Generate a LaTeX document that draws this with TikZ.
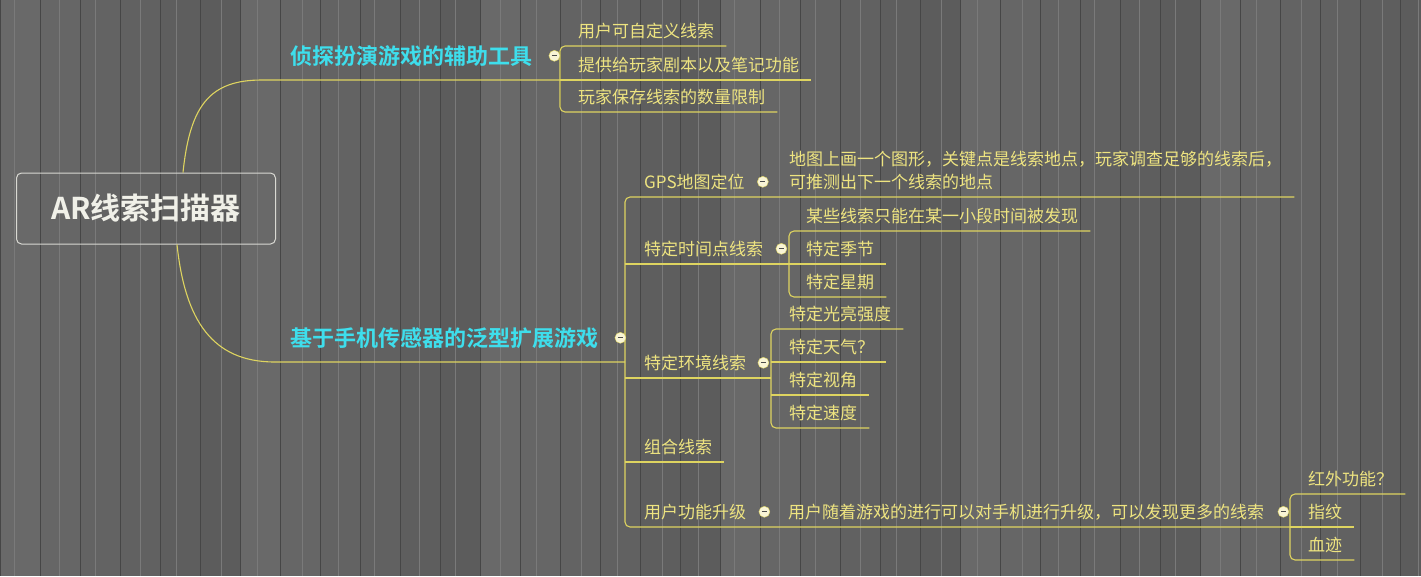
\documentclass[tikz,border=0pt]{standalone}
\usepackage{fontspec}
\setmainfont{Noto Sans CJK SC}[BoldFont={Noto Sans CJK SC Bold}]
\usetikzlibrary{calc}
\definecolor{linkyellow}{RGB}{222,212,96}
\definecolor{leafyellow}{RGB}{238,228,128}
\definecolor{branchcyan}{RGB}{62,222,236}
\definecolor{rootwhite}{RGB}{240,240,232}
\definecolor{seam}{RGB}{70,70,70}
\definecolor{foldfill}{RGB}{248,244,214}

\begin{document}
\begin{tikzpicture}[
  x=1pt, y=-1pt,
  link/.style={draw=linkyellow, line width=1.1pt},
  leaf/.style={anchor=south west, inner sep=0pt, text depth=8pt, text=leafyellow,
    font=\fontsize{17}{23}\selectfont, align=left},
  branch/.style={anchor=south west, inner sep=0pt, text depth=15pt, text=branchcyan,
    font=\fontsize{22}{26}\selectfont\bfseries},
  rootbox/.style={draw=rootwhite!80!gray, line width=1pt, rounded corners=5pt,
    minimum width=259pt, minimum height=71pt, text=rootwhite,
    font=\fontsize{30}{34}\selectfont\bfseries},
  fold/.style={circle, draw=linkyellow, fill=foldfill, minimum size=11pt, inner sep=0pt,
    path picture={\draw[gray!60!black, line width=1.1pt]
      ([xshift=-2.5pt]path picture bounding box.center) --
      ([xshift=2.5pt]path picture bounding box.center);}}
]
\useasboundingbox (0,0) rectangle (1421,576);

% wooden planks
\foreach \i in {0,...,35} {
  \pgfmathtruncatemacro\p{59+mod(\i*7,6)}
  \pgfmathtruncatemacro\q{\i*40+14+mod(\i*5,9)}
  \fill[black!\p] (\i*40,0) rectangle (\i*40+40,576);
  \draw[seam, line width=0.9pt] (\i*40,0) -- (\i*40,576);
  \draw[black!52, line width=0.6pt] (\q,0) -- (\q,576);
}

% root
\node[rootbox] (root) at (146,208.5) {AR线索扫描器};

% main branches
\node[branch] (b1) at (290,80) {侦探扮演游戏的辅助工具};
\node[branch] (b2) at (290,362) {基于手机传感器的泛型扩展游戏};

% leaves of branch 1
\node[leaf] (c11) at (578,46) {用户可自定义线索};
\node[leaf] (c12) at (578,80) {提供给玩家剧本以及笔记功能};
\node[leaf] (c13) at (578,112) {玩家保存线索的数量限制};

% topics of branch 2
\node[leaf] (g1) at (644,197) {GPS地图定位};
\node[leaf] (d1) at (789,197) {地图上画一个图形，关键点是线索地点，玩家调查足够的线索后，\\可推测出下一个线索的地点};
\node[leaf] (t1) at (644,264) {特定时间点线索};
\node[leaf] (t11) at (806,231) {某些线索只能在某一小段时间被发现};
\node[leaf] (t12) at (806,264) {特定季节};
\node[leaf] (t13) at (806,297) {特定星期};
\node[leaf] (e1) at (644,378) {特定环境线索};
\node[leaf] (e11) at (789,329) {特定光亮强度};
\node[leaf] (e12) at (789,362) {特定天气？};
\node[leaf] (e13) at (789,395) {特定视角};
\node[leaf] (e14) at (789,428) {特定速度};
\node[leaf] (k1) at (644,462) {组合线索};
\node[leaf] (u1) at (644,527) {用户功能升级};
\node[leaf] (u11) at (788,527) {用户随着游戏的进行可以对手机进行升级，可以发现更多的线索};
\node[leaf] (u111) at (1308,494) {红外功能？};
\node[leaf] (u112) at (1308,527) {指纹};
\node[leaf] (u113) at (1308,560) {血迹};

% joints
\coordinate (b1j) at (560,80);
\coordinate (b2j) at (625,362);
\coordinate (t1j) at (789,264);
\coordinate (e1j) at (771,378);
\coordinate (u1j) at (1290,527);

% curves from the root
\draw[link] ([xshift=37pt]root.north) .. controls (190,105) and (210,80) .. (262,80) -- (b1j);
\draw[link] ([xshift=31pt]root.south) .. controls (185,320) and (212,362) .. (275,362) -- (b2j);

% branch 1
\draw[link, rounded corners=5pt] ([xshift=12pt]c11.south east) -- (b1j |- c11.south)
  -- (b1j |- c13.south) -- ([xshift=12pt]c13.south east);
\draw[link] (b1j |- c12.south) -- ([xshift=12pt]c12.south east);

% branch 2
\draw[link, rounded corners=5pt] ([xshift=12pt]d1.south east) -- (b2j |- g1.south)
  -- (b2j |- u1.south) -- (u1j);
\draw[link] (b2j |- t1.south) -- (t1j);
\draw[link] (b2j |- e1.south) -- (e1j);
\draw[link] (b2j |- k1.south) -- ([xshift=12pt]k1.south east);

\draw[link, rounded corners=5pt] ([xshift=12pt]t11.south east) -- (t1j |- t11.south)
  -- (t1j |- t13.south) -- ([xshift=12pt]t13.south east);
\draw[link] (t1j) -- ([xshift=12pt]t12.south east);

\draw[link, rounded corners=5pt] ([xshift=12pt]e11.south east) -- (e1j |- e11.south)
  -- (e1j |- e14.south) -- ([xshift=12pt]e14.south east);
\draw[link] (e1j |- e12.south) -- ([xshift=12pt]e12.south east);
\draw[link] (e1j |- e13.south) -- ([xshift=12pt]e13.south east);

\draw[link, rounded corners=5pt] ([xshift=12pt]u111.south east) -- (u1j |- u111.south)
  -- (u1j |- u113.south) -- ([xshift=12pt]u113.south east);
\draw[link] (u1j) -- ([xshift=12pt]u112.south east);

% fold markers
\node[fold] (b1f) at ([shift={(22pt,9pt)}]b1.base east) {};
\node[fold] (b2f) at ([shift={(22pt,9pt)}]b2.base east) {};
\node[fold] (g1f) at ([shift={(18pt,7pt)}]g1.base east) {};
\node[fold] (t1f) at ([shift={(18pt,7pt)}]t1.base east) {};
\node[fold] (e1f) at ([shift={(17pt,7pt)}]e1.base east) {};
\node[fold] (u1f) at ([shift={(18pt,7pt)}]u1.base east) {};
\node[fold] (u11f) at ([shift={(19pt,7pt)}]u11.base east) {};
\end{tikzpicture}
\end{document}
